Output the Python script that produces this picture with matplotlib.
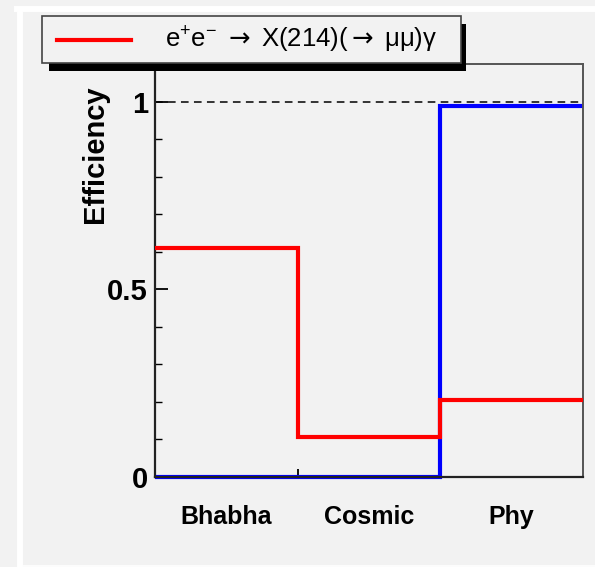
import numpy as np
import matplotlib
matplotlib.use("Agg")
import matplotlib.pyplot as plt
from matplotlib.patches import Rectangle
from matplotlib.lines import Line2D
from matplotlib.ticker import MultipleLocator, FixedLocator, FixedFormatter

plt.rcParams['font.family'] = ['Liberation Sans', 'DejaVu Sans']
plt.rcParams['mathtext.fontset'] = 'custom'
plt.rcParams['mathtext.rm'] = 'Liberation Sans'
plt.rcParams['mathtext.it'] = 'Liberation Sans'
plt.rcParams['mathtext.bf'] = 'Liberation Sans:bold'
plt.rcParams['mathtext.sf'] = 'DejaVu Sans'

# === DATA ===
categories = ['Bhabha', 'Cosmic', 'Phy']
eff_signal = [0.61, 0.106, 0.205]     # e+e- -> X(214)(-> mumu) gamma
eff_other = [0.0, 0.0, 0.987]
signal_label = (r'e$^{+}$e$^{-}$ $\mathsf{\rightarrow}$ X(214)($\mathsf{\rightarrow}$ '
                '\u03bc\u03bc)\u03b3')

bg = '#f2f2f2'
W, H = 595, 567

def fx(px):
    return px / W

def fy(py):
    return 1 - py / H

fig = plt.figure(figsize=(W / 100, H / 100), dpi=100, facecolor=bg)

# white frame lines of the canvas
fig.add_artist(Line2D([fx(20), fx(20)], [fy(9), fy(566)], color='white', lw=4.3))
fig.add_artist(Line2D([fx(17), fx(595)], [fy(9), fy(9)], color='white', lw=4.3))
fig.add_artist(Line2D([fx(20), fx(595)], [fy(565.5), fy(565.5)], color='white', lw=1.2))

ax = fig.add_axes([fx(155), fy(477), fx(583) - fx(155), fy(64) - fy(477)])
ax.set_facecolor(bg)

edges = np.arange(len(categories) + 1)
ax.stairs(eff_other, edges, baseline=None, color='#0000ff', lw=3.0, zorder=2, clip_on=False)
ax.stairs(eff_signal, edges, baseline=None, color='#ff0000', lw=3.0, zorder=4)
ax.axhline(1.0, color='black', lw=1.1, ls=(0, (5, 3.5)), zorder=1.5)

ax.set_xlim(0, 3)
ax.set_ylim(0, 1.1)

# y axis: ticks inside, ROOT style
ax.yaxis.set_major_locator(FixedLocator([0, 0.5, 1]))
ax.yaxis.set_minor_locator(MultipleLocator(0.1))
ax.yaxis.set_major_formatter(FixedFormatter(['0', '0.5', '1']))
ax.tick_params(axis='y', which='major', direction='in', length=9, width=1.3, pad=5,
               labelsize=21, right=False)
ax.tick_params(axis='y', which='minor', direction='in', length=5, width=1.0, right=False)
for lbl in ax.get_yticklabels():
    lbl.set_fontweight('bold')

# x axis: category labels at bin centres, small ticks at bin edges
ax.set_xticks(edges[1:-1], minor=True)
ax.set_xticks(edges[:-1] + 0.5)
ax.set_xticklabels(categories, fontsize=18, fontweight='bold')
ax.tick_params(axis='x', which='major', length=0, pad=20)
ax.tick_params(axis='x', which='minor', direction='in', length=6, width=1.3, top=False)

for side in ['left', 'bottom']:
    ax.spines[side].set_linewidth(1.6)
    ax.spines[side].set_color('#222222')
for side in ['top', 'right']:
    ax.spines[side].set_linewidth(1.4)
    ax.spines[side].set_color('#555555')

fig.text(fx(95), fy(85), 'Efficiency', rotation=90, ha='center', va='top',
         fontsize=21, fontweight='bold')

# legend box with drop shadow
fig.add_artist(Rectangle((fx(49), fy(71)), fx(466) - fx(49), fy(24) - fy(71),
                         transform=fig.transFigure, facecolor='black', edgecolor='none'))
fig.add_artist(Rectangle((fx(42), fy(63)), fx(461) - fx(42), fy(16) - fy(63),
                         transform=fig.transFigure, facecolor=bg, edgecolor='#444444', lw=1.2))
fig.add_artist(Line2D([fx(57), fx(131)], [fy(40), fy(40)], color='#ff0000', lw=3.0))
fig.text(fx(165), fy(40), signal_label, ha='left', va='center', fontsize=18.5)

fig.savefig('out.png', dpi=100, facecolor=bg)
